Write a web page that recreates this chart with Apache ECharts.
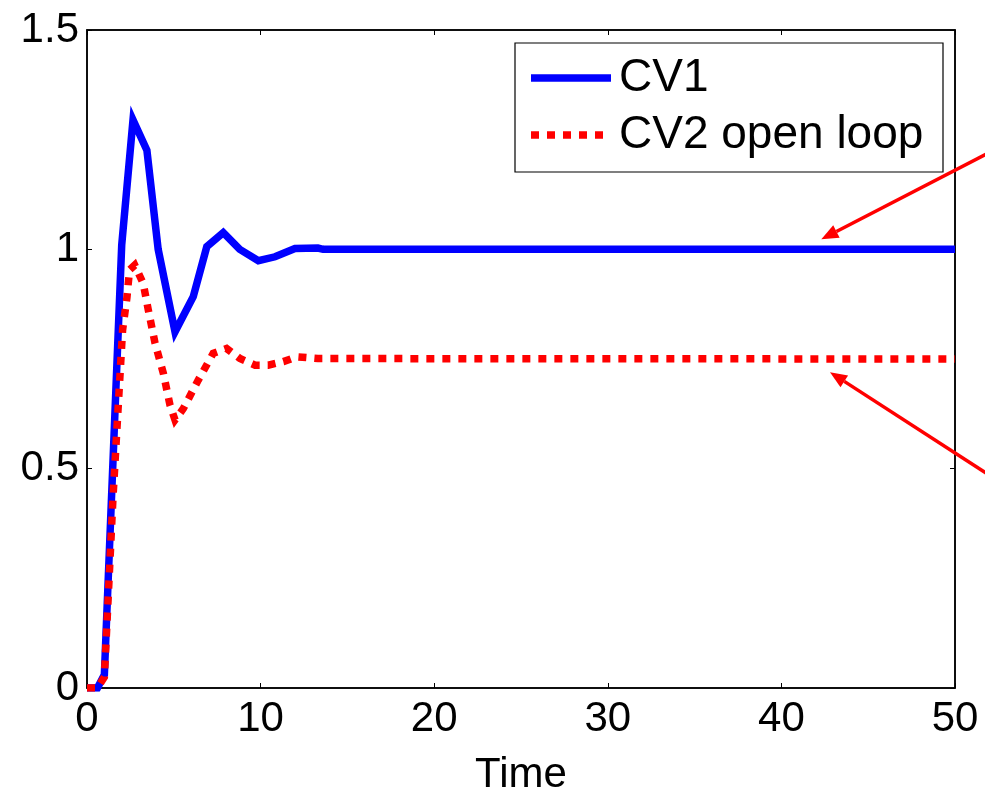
<!DOCTYPE html>
<html>
<head>
<meta charset="utf-8">
<script src="https://cdn.jsdelivr.net/npm/echarts@6/dist/echarts.min.js"></script>
<style>
  html, body { margin: 0; padding: 0; background: #fff; }
  #chart { width: 985px; height: 793px; }
</style>
</head>
<body>
<div id="chart"></div>
<script>
// Step responses: CV1 (closed loop) and CV2 (open loop)
const timeCV1 = [0, 0.6, 1.0, 2.0, 2.65, 3.45, 4.1, 5.07, 6.12, 6.9, 7.85, 8.8, 9.87, 10.83, 11.98, 13.3, 13.6, 50];
const valuesCV1 = [0, 0, 0.03, 1.01, 1.295, 1.226, 1.0, 0.812, 0.892, 1.006, 1.038, 1.0, 0.974, 0.983, 1.002, 1.003, 1.0, 1.0];

const timeCV2 = [0, 0.6, 1.0, 1.5, 2.05, 2.3, 2.45, 2.75, 3.24, 3.53, 3.92, 4.4, 4.78, 5.07, 5.55, 6.41, 7.27, 8.04, 8.81, 9.68, 10.44, 11.31, 12.08, 13.3, 50];
const valuesCV2 = [0, 0, 0.025, 0.436, 0.816, 0.89, 0.953, 0.964, 0.922, 0.862, 0.786, 0.717, 0.645, 0.611, 0.637, 0.702, 0.763, 0.774, 0.751, 0.736, 0.736, 0.744, 0.755, 0.751, 0.75];

const seriesNames = ['CV1', 'CV2 open loop'];
const xTicks = [0, 10, 20, 30, 40, 50];
const yTicks = [0, 0.5, 1, 1.5];

const pairs = (xs, ys) => xs.map((x, i) => [x, ys[i]]);

const FONT = 'Liberation Sans, Arial, sans-serif';
const chart = echarts.init(document.getElementById('chart'), null, { renderer: 'canvas' });

const G = { left: 87, right: 30, top: 30, bottom: 105 };

const COLORS = ['#0000ff', '#ff0000'];

const mirrorAxis = {
  axisLabel: { show: false },
  splitLine: { show: false },
  axisLine: { show: true, onZero: false, lineStyle: { color: '#000', width: 1.5 } },
  axisTick: { show: true, inside: true, length: 5, lineStyle: { color: '#000' } }
};

chart.setOption({
  animation: false,
  backgroundColor: '#fff',
  grid: {
    left: G.left, right: G.right, top: G.top, bottom: G.bottom,
    containLabel: false, outerBoundsMode: 'none',
    show: true, borderColor: '#000', borderWidth: 1.5, backgroundColor: 'transparent'
  },
  xAxis: [
    {
      type: 'value', min: 0, max: 50, interval: 10,
      name: 'Time', nameLocation: 'middle', nameGap: 66,
      nameTextStyle: { fontFamily: FONT, fontSize: 42, color: '#000' },
      axisLine: { show: true, onZero: false, lineStyle: { color: '#000', width: 1.5 } },
      axisTick: { show: true, inside: true, length: 5, lineStyle: { color: '#000' } },
      axisLabel: {
        fontFamily: FONT, fontSize: 42, color: '#000', margin: 10,
        formatter: v => xTicks.includes(v) ? String(v) : ''
      },
      splitLine: { show: false }
    },
    Object.assign({ type: 'value', position: 'top', min: 0, max: 50, interval: 10 }, mirrorAxis)
  ],
  yAxis: [
    {
      type: 'value', min: 0, max: 1.5, interval: 0.5,
      axisLine: { show: true, onZero: false, lineStyle: { color: '#000', width: 1.5 } },
      axisTick: { show: true, inside: true, length: 5, lineStyle: { color: '#000' } },
      axisLabel: {
        fontFamily: FONT, fontSize: 42, color: '#000', margin: 8,
        formatter: v => yTicks.includes(v) ? String(v) : ''
      },
      splitLine: { show: false }
    },
    Object.assign({ type: 'value', position: 'right', min: 0, max: 1.5, interval: 0.5 }, mirrorAxis)
  ],
  series: [
    {
      name: seriesNames[0], type: 'line', xAxisIndex: 0, yAxisIndex: 0,
      data: pairs(timeCV1, valuesCV1),
      showSymbol: false, symbol: 'none', clip: true,
      lineStyle: { color: COLORS[0], width: 7.5, join: 'miter', cap: 'butt' },
      itemStyle: { color: COLORS[0] },
      z: 2
    },
    {
      name: seriesNames[1], type: 'line', xAxisIndex: 0, yAxisIndex: 0,
      data: pairs(timeCV2, valuesCV2),
      showSymbol: false, symbol: 'none', clip: true,
      lineStyle: { color: COLORS[1], width: 7.5, type: [8, 8], join: 'miter', cap: 'butt' },
      itemStyle: { color: COLORS[1] },
      z: 3
    }
  ]
});

// Legend box with line samples, built to the series' own styles
const legendBox = { x: 515, y: 43, w: 428, h: 129 };
const legendRows = [78, 135];
const legendGraphics = [
  { type: 'rect', shape: { x: legendBox.x, y: legendBox.y, width: legendBox.w, height: legendBox.h },
    style: { fill: '#fff', stroke: '#000', lineWidth: 1.2 }, z: 20 }
];
seriesNames.forEach((name, i) => {
  const y = legendRows[i];
  legendGraphics.push({
    type: 'line', shape: { x1: 531, y1: y, x2: 611, y2: y },
    style: { stroke: COLORS[i], lineWidth: 7.5, lineDash: i === 1 ? [8, 8] : null, lineCap: 'butt' }, z: 21
  });
  legendGraphics.push({
    type: 'text', x: 619, y: y,
    style: { text: name, fontFamily: FONT, fontSize: 46, fill: '#000', verticalAlign: 'middle', align: 'left' }, z: 21
  });
});

// Red callout arrows pointing at the two settled responses
function arrow(tail, tip) {
  const dx = tip[0] - tail[0], dy = tip[1] - tail[1];
  const len = Math.hypot(dx, dy);
  const ux = dx / len, uy = dy / len;
  const headL = 17, headW = 7;
  const bx = tip[0] - ux * headL, by = tip[1] - uy * headL;
  return [
    { type: 'line', shape: { x1: tail[0], y1: tail[1], x2: bx, y2: by },
      style: { stroke: '#ff0000', lineWidth: 3.5 }, z: 10 },
    { type: 'polygon', shape: { points: [tip, [bx - uy * headW, by + ux * headW], [bx + uy * headW, by - ux * headW]] },
      style: { fill: '#ff0000' }, z: 10 }
  ];
}
const tipA = chart.convertToPixel({ xAxisIndex: 0, yAxisIndex: 0 }, [42.3, 1.023]);
const tipB = chart.convertToPixel({ xAxisIndex: 0, yAxisIndex: 0 }, [42.8, 0.72]);
chart.setOption({
  graphic: [
    ...legendGraphics,
    ...arrow([1000, 147], tipA),
    ...arrow([1000, 482], tipB)
  ]
});
</script>
</body>
</html>
